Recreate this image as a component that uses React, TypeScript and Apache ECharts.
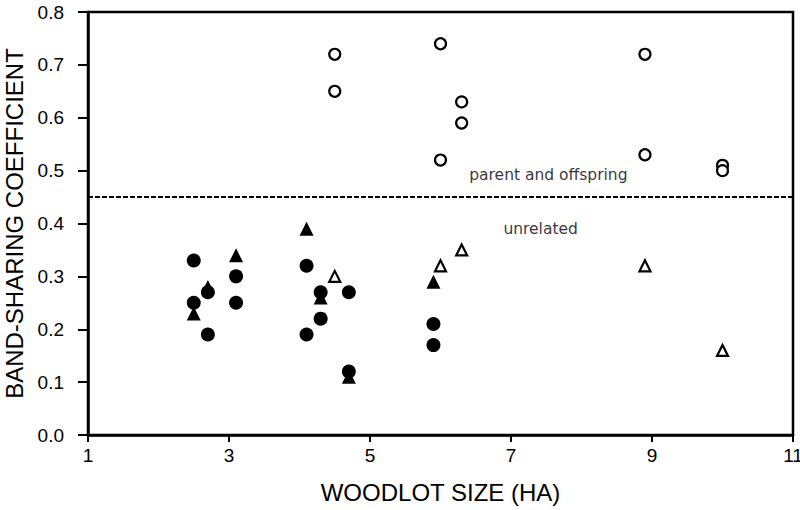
import React, { useEffect, useRef } from "react";
import * as echarts from "echarts";

// Parent and offspring (open circles)
const parentX = [4.5, 4.5, 6.0, 6.3, 6.3, 6.0, 8.9, 8.9, 10.0, 10.0];
const parentY = [0.72, 0.65, 0.74, 0.63, 0.59, 0.52, 0.72, 0.53, 0.51, 0.50];

// Unrelated, filled circles
const filledCircleX = [2.5, 2.5, 2.7, 2.7, 3.1, 3.1, 4.1, 4.1, 4.3, 4.3, 4.7, 4.7, 5.9, 5.9];
const filledCircleY = [0.33, 0.25, 0.27, 0.19, 0.30, 0.25, 0.32, 0.19, 0.27, 0.22, 0.27, 0.12, 0.21, 0.17];

// Unrelated, filled triangles
const filledTriX = [2.5, 2.7, 3.1, 4.1, 4.3, 4.7, 5.9];
const filledTriY = [0.23, 0.28, 0.34, 0.39, 0.26, 0.11, 0.29];

// Unrelated, open triangles
const openTriX = [4.5, 6.0, 6.3, 8.9, 10.0];
const openTriY = [0.30, 0.32, 0.35, 0.32, 0.16];

// Threshold line
const thresholdValue = 0.452;

const xTickValues = [1, 3, 5, 7, 9, 11];
const xTitle = "WOODLOT SIZE (HA)";
const yTitle = "BAND-SHARING COEFFICIENT";
const upperLabel = "parent and offspring";
const lowerLabel = "unrelated";

const zip = (xs: number[], ys: number[]) => xs.map((x, i) => [x, ys[i]]);

export default function App() {
  const ref = useRef<HTMLDivElement>(null);
  useEffect(() => {
    if (!ref.current) return;
    const chart = echarts.init(ref.current, null, { renderer: "svg" });
    const font = "'Liberation Sans', Arial, sans-serif";
    const noteFont = "'DejaVu Sans', sans-serif";
    chart.setOption({
      animation: false,
      backgroundColor: "#fff",
      grid: {
        left: 88,
        right: 7,
        top: 12,
        bottom: 75,
        containLabel: false,
        outerBoundsMode: "none",
        show: true,
        borderColor: "#000",
        borderWidth: 2.5,
        backgroundColor: "transparent",
      },
      xAxis: {
        type: "value",
        min: 1,
        max: 11,
        name: xTitle,
        nameLocation: "middle",
        nameGap: 45,
        nameTextStyle: { fontFamily: font, fontSize: 24, color: "#000" },
        axisLine: { show: true, onZero: false, lineStyle: { color: "#000", width: 2.5 } },
        axisTick: { show: true, length: 7, customValues: xTickValues, lineStyle: { color: "#000", width: 2 } },
        axisLabel: { customValues: xTickValues, margin: 11, fontFamily: font, fontSize: 19, color: "#000" },
        splitLine: { show: false },
      },
      yAxis: {
        type: "value",
        min: 0,
        max: 0.8,
        interval: 0.1,
        name: yTitle,
        nameLocation: "middle",
        nameGap: 53,
        nameTextStyle: { fontFamily: font, fontSize: 24, color: "#000" },
        axisLine: { show: true, onZero: false, lineStyle: { color: "#000", width: 2.5 } },
        axisTick: { show: true, length: 10, lineStyle: { color: "#000", width: 2 } },
        axisLabel: {
          margin: 24,
          fontFamily: font,
          fontSize: 19,
          color: "#000",
          formatter: (v: number) => v.toFixed(1),
        },
        splitLine: { show: false },
      },
      series: [
        {
          type: "scatter",
          name: "parent",
          data: zip(parentX, parentY),
          symbol: "circle",
          symbolSize: 11,
          itemStyle: { color: "#fff", borderColor: "#000", borderWidth: 2.2, opacity: 1 },
          z: 3,
          markLine: {
            silent: true,
            symbol: "none",
            label: { show: false },
            lineStyle: { type: [5, 2], color: "#000", width: 2 },
            data: [{ yAxis: thresholdValue }],
          },
        },
        {
          type: "scatter",
          name: "filledTriangle",
          data: zip(filledTriX, filledTriY),
          symbol: "triangle",
          symbolSize: 14,
          itemStyle: { color: "#000", opacity: 1 },
          z: 3,
        },
        {
          type: "scatter",
          name: "filledCircle",
          data: zip(filledCircleX, filledCircleY),
          symbol: "circle",
          symbolSize: 14,
          itemStyle: { color: "#000", opacity: 1 },
          z: 4,
        },
        {
          type: "scatter",
          name: "openTriangle",
          data: zip(openTriX, openTriY),
          symbol: "triangle",
          symbolSize: 11,
          itemStyle: { color: "#fff", borderColor: "#000", borderWidth: 2.2, opacity: 1 },
          z: 4,
        },
        {
          type: "scatter",
          name: "notes",
          silent: true,
          symbolSize: 0,
          data: [
            { value: [7.53, 0.491], label: { formatter: upperLabel } },
            { value: [7.42, 0.389], label: { formatter: lowerLabel } },
          ],
          label: {
            show: true,
            position: "inside",
            fontFamily: noteFont,
            fontSize: 15.5,
            color: "#000",
          },
          z: 5,
        },
      ],
    });
    return () => chart.dispose();
  }, []);
  return (
    <div
      ref={ref}
      style={{ position: "fixed", left: 0, top: 0, width: 800, height: 510 }}
    />
  );
}
